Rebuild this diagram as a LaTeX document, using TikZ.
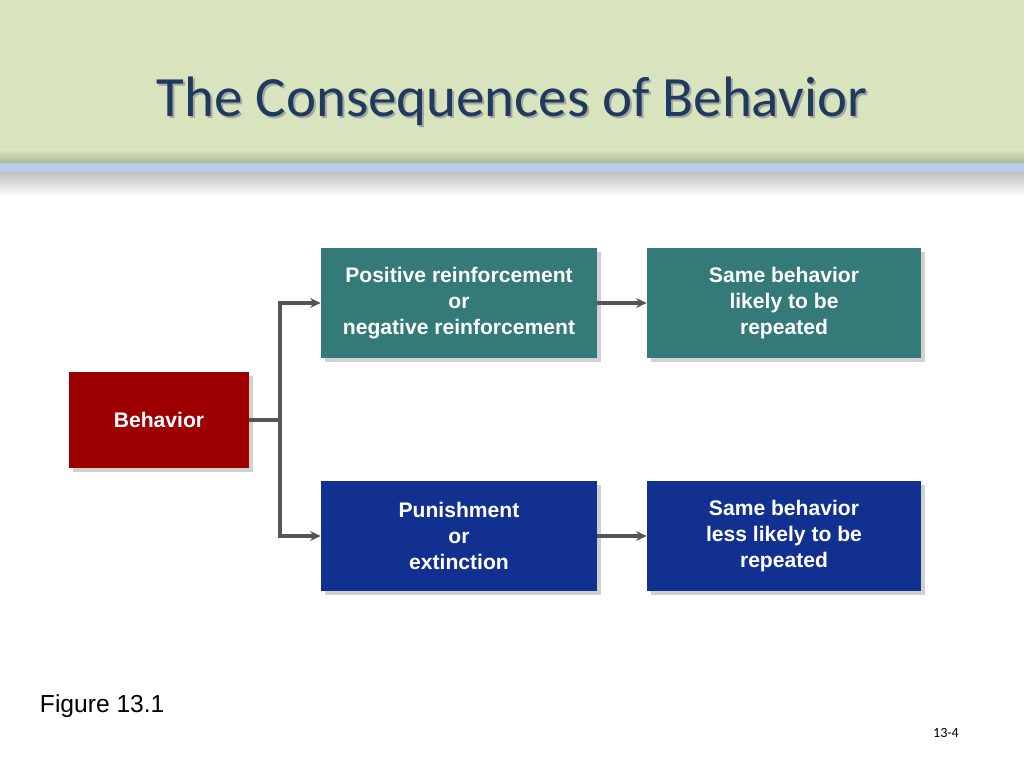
\documentclass[tikz,border=0pt]{standalone}
\usepackage{fontspec}
\setmainfont{Liberation Sans}
\newfontfamily\titlefont{Carlito}
\usetikzlibrary{positioning,shadows,arrows.meta}

\definecolor{headgreen}{HTML}{D7E4BD}
\definecolor{headblue}{HTML}{B7CDE8}
\definecolor{titleblue}{HTML}{1F3A5C}
\definecolor{behred}{HTML}{9C0000}
\definecolor{reinfteal}{HTML}{337A78}
\definecolor{punblue}{HTML}{12308F}
\definecolor{conngray}{HTML}{555555}

\tikzset{
  box/.style={draw=none, text=white, font=\bfseries\fontsize{15}{18.5}\selectfont,
    align=center, inner sep=0pt,
    drop shadow={shadow xshift=0.09cm, shadow yshift=-0.09cm, opacity=0.3, fill=black!60}},
  conn/.style={draw=conngray, line width=2.2pt}
}

\begin{document}
\begin{tikzpicture}[>={Stealth[length=7.5pt,width=7pt]}, x=0.025cm, y=-0.025cm]

\useasboundingbox (0,0) rectangle (1024,768);
\fill[white] (0,0) rectangle (1024,768);

% Header band
\fill[headgreen] (0,0) rectangle (1024,163);
\shade[top color=headgreen, bottom color=headgreen!80!black] (0,150) rectangle (1024,163);
\fill[headblue] (0,163) rectangle (1024,172);
\shade[top color=black!25, bottom color=white] (0,172) rectangle (1024,196);

% Title with shadow
\node[text=black!35, font=\titlefont\fontsize{40.5}{48}\selectfont] at (514,103) {The Consequences of Behavior};
\node[text=titleblue, font=\titlefont\fontsize{40.5}{48}\selectfont] (title) at (512,101) {The Consequences of Behavior};

% Boxes
\node[box, fill=behred, minimum width=4.5cm, minimum height=2.4cm] (beh) at (159,420) {Behavior};
\node[box, fill=reinfteal, minimum width=6.9cm, minimum height=2.75cm] (reinf) at (459,303)
  {Positive reinforcement\\or\\negative reinforcement};
\node[box, fill=reinfteal, minimum width=6.85cm, minimum height=2.75cm] (repeat) at (784,303)
  {Same behavior\\likely to be\\repeated};
\node[box, fill=punblue, minimum width=6.9cm, minimum height=2.75cm] (pun) at (459,536)
  {Punishment\\or\\extinction};
\node[box, fill=punblue, minimum width=6.85cm, minimum height=2.75cm] (less) at (784,536)
  {Same behavior\\less likely to be\\repeated};

% Connectors
\coordinate (split) at (280,420);
\draw[conn] (beh.east) -- (split);
\draw[conn,->] (split) |- (reinf.west);
\draw[conn,->] (split) |- (pun.west);
\draw[conn,->] (reinf) -- (repeat);
\draw[conn,->] (pun) -- (less);

% Footer texts
\node[anchor=west, font=\fontsize{17.5}{20}\selectfont] (fig) at (35,706) {Figure 13.1};
\node[font=\titlefont\fontsize{10}{12}\selectfont] (pageno) at (946,733) {13-4};

\end{tikzpicture}
\end{document}
